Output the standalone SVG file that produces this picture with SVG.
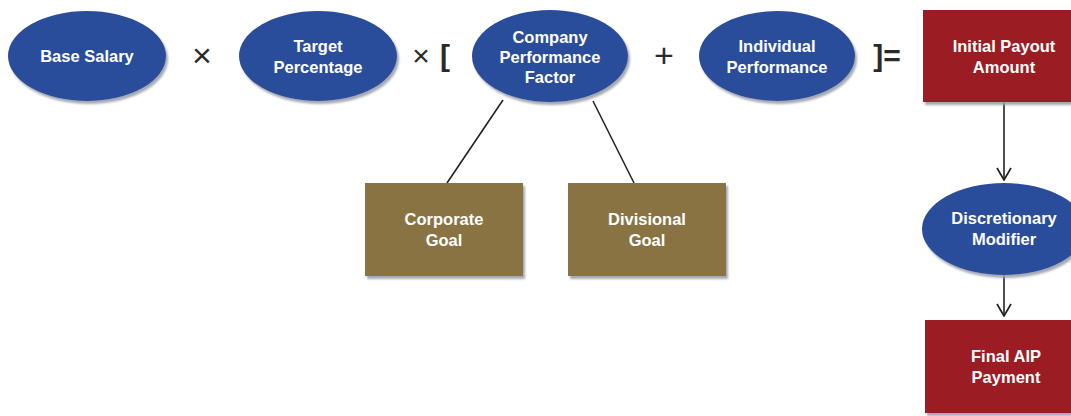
<svg xmlns="http://www.w3.org/2000/svg" width="1071" height="416" viewBox="0 0 1071 416">
  <style>
    .oval { fill: #2b4d9b; }
    .payout { fill: #9b1d23; }
    .goal { fill: #8a7342; }
    .lbl { font-family: "Liberation Sans", Arial, sans-serif; font-weight: bold; font-size: 16.5px; fill: #ffffff; text-anchor: middle; }
    .op { font-family: "Liberation Sans", Arial, sans-serif; fill: #2a2a2a; text-anchor: middle; }
    .link { stroke: #222222; stroke-width: 1.6; fill: none; }
  </style>
  <defs>
    <filter id="shade" x="-10%" y="-10%" width="125%" height="130%">
      <feDropShadow dx="2" dy="3" stdDeviation="1" flood-color="#9aa0ab" flood-opacity="0.9"/>
    </filter>
    <marker id="vhead" viewBox="0 0 16 16" refX="15" refY="8" markerWidth="16" markerHeight="16" markerUnits="userSpaceOnUse" orient="auto">
      <path d="M3,1 L15,8 L3,15" fill="none" stroke="#222222" stroke-width="1.7"/>
    </marker>
  </defs>

  <rect width="1071" height="416" fill="#ffffff"/>

  <!-- connectors -->
  <g id="connectors">
    <line class="link" x1="503" y1="100" x2="447" y2="183"/>
    <line class="link" x1="593" y1="101" x2="634" y2="183"/>
    <line class="link" x1="1004" y1="102" x2="1004" y2="180" marker-end="url(#vhead)"/>
    <line class="link" x1="1004" y1="275" x2="1004" y2="316" marker-end="url(#vhead)"/>
  </g>

  <!-- operators -->
  <g id="operators">
    <text class="op" x="202" y="67" font-size="34">×</text>
    <text class="op" x="421" y="66" font-size="30">×</text>
    <text class="op" x="445" y="66" font-size="30" font-weight="bold">[</text>
    <text class="op" x="664" y="67" font-size="34">+</text>
    <text class="op" x="887" y="66" font-size="30" font-weight="bold">]=</text>
  </g>

  <g id="base-salary">
    <ellipse class="oval" cx="87" cy="56" rx="79" ry="45" filter="url(#shade)"/>
    <text class="lbl" x="87" y="62">Base Salary</text>
  </g>

  <g id="target-percentage">
    <ellipse class="oval" cx="318" cy="56" rx="79" ry="45" filter="url(#shade)"/>
    <text class="lbl" x="318" y="52">Target</text>
    <text class="lbl" x="318" y="73">Percentage</text>
  </g>

  <g id="company-performance">
    <ellipse class="oval" cx="550" cy="56" rx="78" ry="46" filter="url(#shade)"/>
    <text class="lbl" x="550" y="43">Company</text>
    <text class="lbl" x="550" y="63">Performance</text>
    <text class="lbl" x="550" y="83">Factor</text>
  </g>

  <g id="individual-performance">
    <ellipse class="oval" cx="777" cy="56" rx="78" ry="45" filter="url(#shade)"/>
    <text class="lbl" x="777" y="52">Individual</text>
    <text class="lbl" x="777" y="73">Performance</text>
  </g>

  <g id="initial-payout">
    <rect class="payout" x="923" y="10" width="165" height="92" filter="url(#shade)"/>
    <text class="lbl" x="1004" y="52">Initial Payout</text>
    <text class="lbl" x="1004" y="73">Amount</text>
  </g>

  <g id="corporate-goal">
    <rect class="goal" x="365" y="183" width="158" height="93" filter="url(#shade)"/>
    <text class="lbl" x="444" y="225">Corporate</text>
    <text class="lbl" x="444" y="246">Goal</text>
  </g>

  <g id="divisional-goal">
    <rect class="goal" x="568" y="183" width="158" height="93" filter="url(#shade)"/>
    <text class="lbl" x="647" y="225">Divisional</text>
    <text class="lbl" x="647" y="246">Goal</text>
  </g>

  <g id="discretionary-modifier">
    <ellipse class="oval" cx="1004" cy="229" rx="82" ry="46" filter="url(#shade)"/>
    <text class="lbl" x="1004" y="224">Discretionary</text>
    <text class="lbl" x="1004" y="245">Modifier</text>
  </g>

  <g id="final-payment">
    <rect class="payout" x="925" y="320" width="165" height="93" filter="url(#shade)"/>
    <text class="lbl" x="1006" y="362">Final AIP</text>
    <text class="lbl" x="1006" y="383">Payment</text>
  </g>
</svg>
